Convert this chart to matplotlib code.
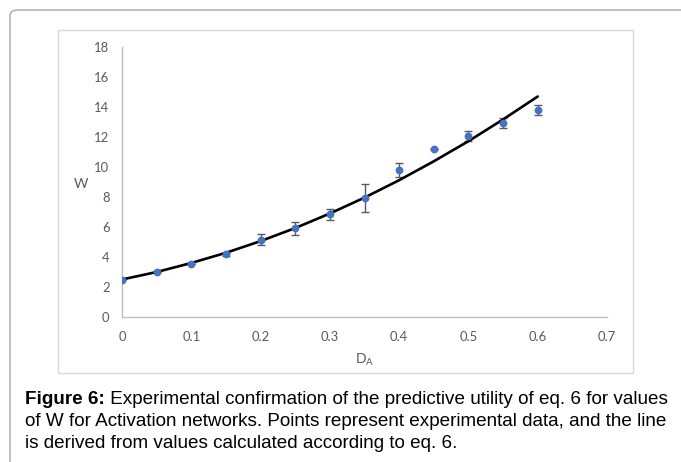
import matplotlib
matplotlib.use("Agg")
import matplotlib.pyplot as plt
from matplotlib.patches import FancyBboxPatch, Rectangle

# ---- data ----
d_exp = [0.0, 0.05, 0.1, 0.15, 0.2, 0.25, 0.3, 0.35, 0.4, 0.45, 0.5, 0.55, 0.6]
w_exp = [2.47, 2.98, 3.52, 4.18, 5.15, 5.92, 6.85, 7.95, 9.8, 11.2, 12.05, 12.95, 13.8]
w_err = [0.0, 0.0, 0.0, 0.08, 0.38, 0.42, 0.38, 0.92, 0.47, 0.0, 0.35, 0.33, 0.33]

d_calc = [0.0, 0.05, 0.1, 0.15, 0.2, 0.25, 0.3, 0.35, 0.4, 0.45, 0.5, 0.55, 0.6]
w_calc = [2.5, 3.0, 3.6, 4.28, 5.06, 5.93, 6.9, 7.96, 9.12, 10.38, 11.72, 13.17, 14.7]

x_ticks = [0, 0.1, 0.2, 0.3, 0.4, 0.5, 0.6, 0.7]
x_ticklabels = ["0", "0.1", "0.2", "0.3", "0.4", "0.5", "0.6", "0.7"]
y_ticks = [0, 2, 4, 6, 8, 10, 12, 14, 16, 18]

caption_bold = "Figure 6:"
caption_line1 = " Experimental confirmation of the predictive utility of eq. 6 for values"
caption_line2 = "of W for Activation networks. Points represent experimental data, and the line"
caption_line3 = "is derived from values calculated according to eq. 6."

W, H = 681, 462
fig = plt.figure(figsize=(W / 100, H / 100), dpi=100)

def fx(px):
    return px / W

def fy(py):
    return 1 - py / H

# outer frame
outer = FancyBboxPatch((fx(10), fy(470)), fx(700), 460 / H,
                       boxstyle="round,pad=0,rounding_size=0.012",
                       transform=fig.transFigure, fill=False,
                       edgecolor="#a6a6a6", lw=1.0)
fig.patches.append(outer)

# inner chart box
inner = Rectangle((fx(58), fy(373)), fx(633 - 58), (373 - 30) / H,
                  transform=fig.transFigure, fill=False,
                  edgecolor="#d9d9d9", lw=1.0)
fig.patches.append(inner)

tick_font = "Lato"
ax = fig.add_axes([fx(122), fy(317), fx(607 - 122), (317 - 47) / H])
ax.set_xlim(0, 0.7)
ax.set_ylim(0, 18)
ax.set_xticks(x_ticks)
ax.set_xticklabels(x_ticklabels)
ax.set_yticks(y_ticks)
for s in ["top", "right"]:
    ax.spines[s].set_visible(False)
for s in ["left", "bottom"]:
    ax.spines[s].set_color("#bfbfbf")
    ax.spines[s].set_linewidth(1.0)
ax.tick_params(axis="both", length=0, labelsize=9.4, labelcolor="#595959")
ax.tick_params(axis="y", pad=9)
ax.tick_params(axis="x", pad=10)
for lab in ax.get_xticklabels() + ax.get_yticklabels():
    lab.set_family(tick_font)
ax.patch.set_alpha(0)

ax.plot(d_calc, w_calc, color="black", lw=1.9, zorder=3, solid_capstyle="round",
        solid_joinstyle="round")
ax.errorbar(d_exp, w_exp, yerr=w_err, fmt="none", ecolor="#5a5a5a",
            elinewidth=1.0, capsize=3.2, capthick=1.0, zorder=2)
ax.plot(d_exp, w_exp, "o", color="#4472c4", markersize=4.6, zorder=4)

fig.text(fx(81), fy(184), "W", ha="center", va="center", fontsize=10,
         color="#595959", family=tick_font)
fig.text(fx(365), fy(360), "D$_\\mathregular{A}$", ha="center", va="center",
         fontsize=10, color="#595959", family=tick_font)

# caption
cap_font = "Liberation Sans"
cap_size = 13.6
t0 = fig.text(fx(25), fy(400), caption_bold, ha="left", va="center",
              fontsize=cap_size, fontweight="bold", family=cap_font, color="black")
fig.canvas.draw()
bb = t0.get_window_extent(renderer=fig.canvas.get_renderer())
x_after = bb.x1 / W
fig.text(x_after, fy(400), caption_line1, ha="left", va="center",
         fontsize=cap_size, family=cap_font, color="black")
fig.text(fx(25), fy(422), caption_line2, ha="left", va="center",
         fontsize=cap_size, family=cap_font, color="black")
fig.text(fx(25), fy(444), caption_line3, ha="left", va="center",
         fontsize=cap_size, family=cap_font, color="black")

fig.savefig("out.png", dpi=100)
